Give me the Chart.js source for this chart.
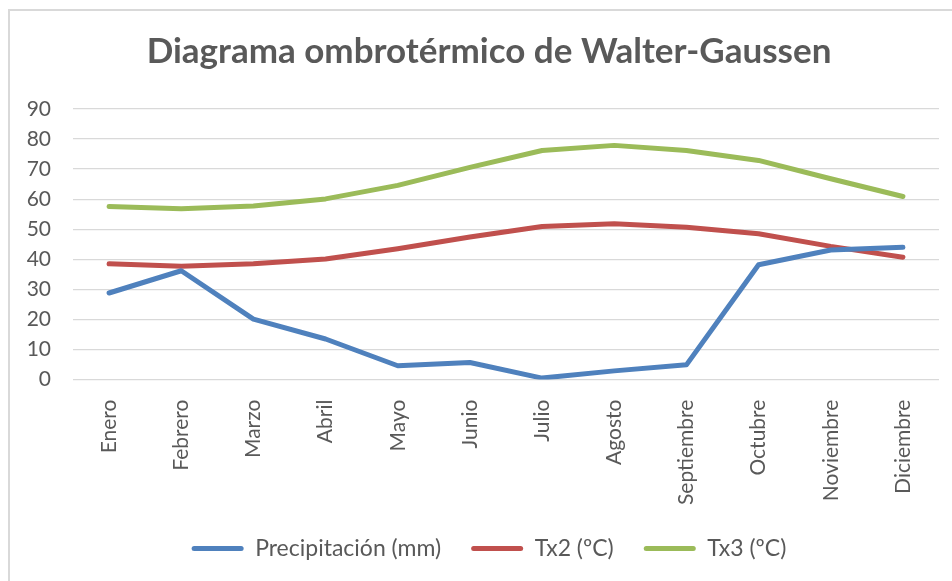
<!DOCTYPE html>
<html lang="es">
<head>
<meta charset="UTF-8">
<title>Diagrama ombrotérmico</title>
<style>
    html, body {
        margin: 0;
        padding: 0;
        background: #fff;
        overflow: hidden;
    }
    .frame {
        position: absolute;
        left: 8px;
        top: 9px;
        width: 1000px;
        height: 1000px;
        border: 2px solid #d9d9d9;
    }
    .wrap {
        position: absolute;
        left: 0;
        top: 0;
        width: 952px;
        height: 581px;
    }
</style>
</head>
<body>
<div class="frame"></div>
<div class="wrap"><canvas id="chart"></canvas></div>

<script src="https://cdn.jsdelivr.net/npm/chart.js"></script>
<script>
    // datos
    const meses = ['Enero', 'Febrero', 'Marzo', 'Abril', 'Mayo', 'Junio', 'Julio',
        'Agosto', 'Septiembre', 'Octubre', 'Noviembre', 'Diciembre'];
    const precipitacion = [28.8, 36.2, 20.1, 13.5, 4.6, 5.7, 0.5, 2.9, 4.9, 38.2, 43.1, 44.0];
    const tx2 = [38.5, 37.7, 38.5, 40.1, 43.5, 47.4, 50.9, 51.8, 50.7, 48.5, 44.3, 40.7];
    const tx3 = [57.6, 56.8, 57.7, 60.1, 64.6, 70.6, 76.2, 77.9, 76.2, 72.9, 66.8, 60.9];

    const gris = '#595959';
    const fuente = 'Lato, "Open Sans", sans-serif';

    const ctx = document.getElementById('chart').getContext('2d');
    const chart = new Chart(ctx, {
        type: 'line',
        data: {
            labels: meses,
            datasets: [{
                label: 'Precipitación (mm)',
                data: precipitacion,
                borderColor: '#4f81bd',
                backgroundColor: '#4f81bd'
            }, {
                label: 'Tx2 (ºC)',
                data: tx2,
                borderColor: '#c0504d',
                backgroundColor: '#c0504d'
            }, {
                label: 'Tx3 (ºC)',
                data: tx3,
                borderColor: '#9bbb59',
                backgroundColor: '#9bbb59'
            }]
        },
        options: {
            responsive: true,
            maintainAspectRatio: false,
            animation: false,
            layout: {
                padding: { left: 27, right: 1, top: 31, bottom: 11 }
            },
            elements: {
                line: { borderWidth: 5, tension: 0, borderCapStyle: 'round', borderJoinStyle: 'round' },
                point: { radius: 0, hoverRadius: 0 }
            },
            plugins: {
                title: {
                    display: true,
                    text: 'Diagrama ombrotérmico de Walter-Gaussen',
                    color: gris,
                    font: { family: fuente, size: 35, weight: 'bold' },
                    padding: { top: 0, bottom: 36 }
                },
                legend: {
                    position: 'bottom',
                    labels: {
                        color: gris,
                        font: { family: fuente, size: 23 },
                        boxWidth: 52,
                        boxHeight: 5,
                        padding: 30,
                        generateLabels: function (c) {
                            return Chart.defaults.plugins.legend.labels.generateLabels(c).map(function (l) {
                                l.lineWidth = 0;
                                l.fillStyle = l.strokeStyle;
                                l.borderRadius = 2.5;
                                return l;
                            });
                        }
                    }
                },
                tooltip: { enabled: false }
            },
            scales: {
                x: {
                    offset: true,
                    grid: { display: false },
                    border: { display: false },
                    afterFit: function (s) { s.height -= 10; },
                    ticks: {
                        color: gris,
                        font: { family: fuente, size: 21 },
                        minRotation: 90,
                        maxRotation: 90,
                        padding: 12
                    }
                },
                y: {
                    min: 0,
                    max: 90,
                    grid: { color: '#d9d9d9', lineWidth: 1.3, drawTicks: false },
                    border: { display: false },
                    afterFit: function (s) { s.width = 46; },
                    ticks: {
                        stepSize: 10,
                        color: gris,
                        font: { family: fuente, size: 21 },
                        padding: 22
                    }
                },
                // margen derecho vacio, para centrar titulo y leyenda como en el original
                margen: {
                    position: 'right',
                    grid: { display: false },
                    border: { display: false },
                    ticks: { display: false },
                    afterFit: function (s) { s.width = 12; }
                }
            }
        }
    });
</script>
</body>
</html>
